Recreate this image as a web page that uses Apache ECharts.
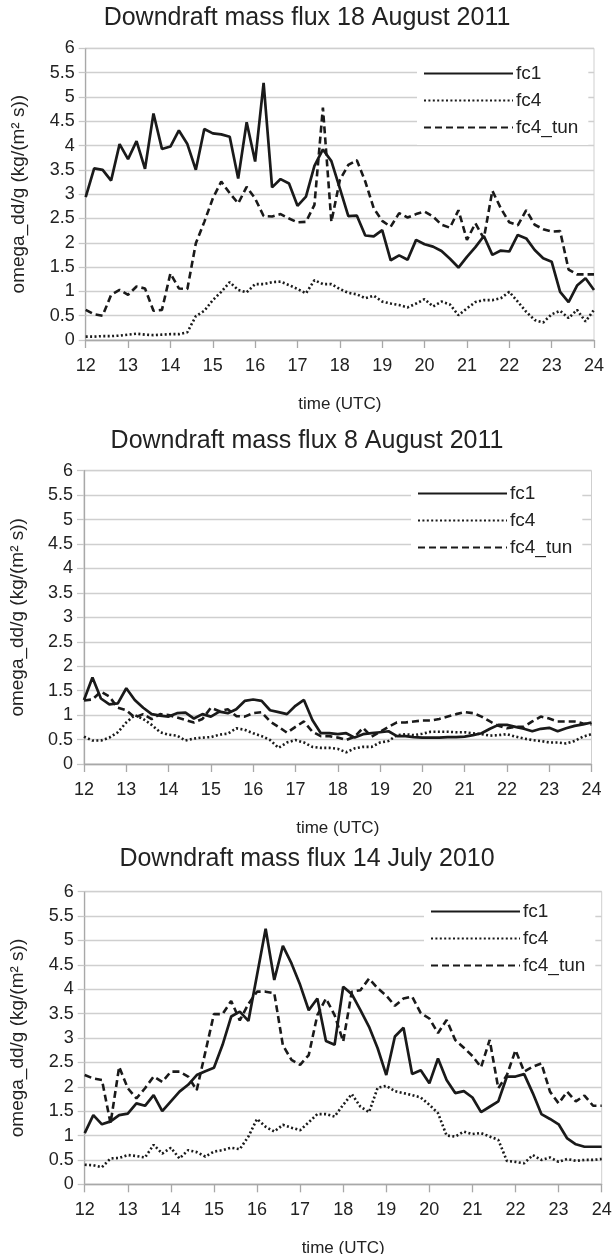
<!DOCTYPE html>
<html><head><meta charset="utf-8">
<script src="https://cdn.jsdelivr.net/npm/echarts@6/dist/echarts.min.js"></script>
<style>html,body{margin:0;padding:0;background:#fff}#c{width:614px;height:1254px}</style>
</head><body><div id="c"></div>
<script>
// ---- data ----
const times = [12,12.2,12.4,12.6,12.8,13,13.2,13.4,13.6,13.8,14,14.2,14.4,14.6,14.8,15,15.2,15.4,15.6,15.8,
  16,16.2,16.4,16.6,16.8,17,17.2,17.4,17.6,17.8,18,18.2,18.4,18.6,18.8,19,19.2,19.4,19.6,19.8,
  20,20.2,20.4,20.6,20.8,21,21.2,21.4,21.6,21.8,22,22.2,22.4,22.6,22.8,23,23.2,23.4,23.6,23.8,24];
const seriesNames = ['fc1','fc4','fc4_tun'];
const panelTitles = ['Downdraft mass flux 18 August 2011','Downdraft mass flux 8 August 2011','Downdraft mass flux 14 July 2010'];
const xName = 'time (UTC)';
const yName = 'omega_dd/g (kg/(m² s))';

const aug18_fc1 = [2.94,3.53,3.50,3.28,4.03,3.72,4.09,3.52,4.66,3.93,3.98,4.31,4.03,3.50,4.34,4.25,4.23,4.18,3.32,4.48,
  3.67,5.29,3.14,3.31,3.22,2.76,2.95,3.58,3.92,3.68,3.12,2.55,2.56,2.15,2.13,2.26,1.64,1.74,1.65,2.06,
  1.97,1.92,1.83,1.67,1.49,1.71,1.91,2.14,1.75,1.84,1.82,2.16,2.09,1.85,1.68,1.61,0.99,0.78,1.12,1.27,1.03];
const aug18_fc4 = [0.07,0.07,0.08,0.08,0.09,0.11,0.13,0.11,0.10,0.11,0.12,0.12,0.16,0.49,0.60,0.82,0.99,1.19,1.03,0.98,
  1.15,1.15,1.19,1.20,1.13,1.05,0.96,1.23,1.15,1.15,1.05,0.97,0.94,0.86,0.91,0.79,0.75,0.72,0.67,0.75,
  0.84,0.69,0.79,0.73,0.51,0.65,0.78,0.82,0.82,0.86,0.99,0.79,0.58,0.41,0.36,0.53,0.60,0.45,0.62,0.38,0.62];
const aug18_tun = [0.62,0.53,0.50,0.93,1.03,0.93,1.10,1.06,0.60,0.62,1.37,1.06,1.05,1.99,2.43,2.91,3.26,3.02,2.81,3.15,
  2.91,2.55,2.54,2.59,2.50,2.42,2.43,2.78,4.78,2.43,3.29,3.60,3.70,3.26,2.71,2.45,2.33,2.61,2.52,2.59,
  2.64,2.54,2.37,2.31,2.67,2.06,2.40,2.09,3.07,2.71,2.42,2.36,2.67,2.37,2.28,2.23,2.24,1.45,1.35,1.35,1.35];

const aug8_fc1 = [1.31,1.77,1.34,1.22,1.24,1.55,1.31,1.15,1.02,0.99,0.97,1.04,1.05,0.93,1.02,0.97,1.07,1.04,1.12,1.29,
  1.32,1.29,1.10,1.06,1.02,1.19,1.31,0.90,0.63,0.63,0.61,0.63,0.54,0.61,0.63,0.65,0.67,0.57,0.57,0.55,
  0.54,0.54,0.54,0.55,0.55,0.56,0.59,0.63,0.72,0.80,0.80,0.76,0.72,0.67,0.72,0.74,0.67,0.73,0.78,0.81,0.85];
const aug8_fc4 = [0.56,0.48,0.48,0.54,0.65,0.85,1.00,0.92,0.80,0.65,0.60,0.58,0.48,0.52,0.54,0.55,0.60,0.62,0.73,0.70,
  0.63,0.57,0.49,0.33,0.44,0.49,0.44,0.35,0.33,0.33,0.31,0.24,0.32,0.35,0.35,0.44,0.47,0.59,0.61,0.59,
  0.62,0.66,0.66,0.66,0.65,0.65,0.63,0.61,0.58,0.59,0.61,0.56,0.52,0.49,0.47,0.44,0.44,0.42,0.47,0.56,0.61];
const aug8_tun = [1.30,1.32,1.48,1.38,1.15,1.10,0.95,1.02,0.92,1.02,1.00,0.95,0.90,0.85,0.92,1.15,1.08,1.12,0.98,0.97,
  1.04,1.06,0.87,0.76,0.64,0.76,0.87,0.66,0.57,0.57,0.54,0.49,0.56,0.74,0.56,0.66,0.76,0.85,0.85,0.87,
  0.89,0.89,0.92,0.97,1.02,1.06,1.04,0.97,0.87,0.78,0.73,0.76,0.76,0.87,0.97,0.93,0.87,0.87,0.87,0.83,0.81];

const jul14_fc1 = [1.05,1.42,1.23,1.29,1.42,1.45,1.66,1.61,1.83,1.50,1.70,1.90,2.04,2.24,2.32,2.39,2.86,3.44,3.54,3.35,
  4.29,5.24,4.19,4.89,4.53,4.09,3.57,3.81,2.94,2.86,4.05,3.90,3.57,3.23,2.79,2.24,3.03,3.21,2.26,2.34,
  2.07,2.58,2.14,1.87,1.91,1.78,1.48,1.59,1.70,2.21,2.21,2.26,1.87,1.44,1.34,1.23,0.94,0.82,0.77,0.77,0.77];
const jul14_fc4 = [0.40,0.39,0.35,0.53,0.54,0.60,0.58,0.55,0.81,0.63,0.75,0.53,0.70,0.66,0.57,0.67,0.70,0.75,0.72,0.98,
  1.34,1.18,1.08,1.22,1.16,1.11,1.27,1.44,1.44,1.39,1.63,1.85,1.59,1.48,1.98,2.02,1.91,1.87,1.83,1.78,
  1.63,1.46,1.00,0.98,1.08,1.03,1.05,0.98,0.91,0.48,0.46,0.43,0.60,0.50,0.55,0.46,0.52,0.48,0.50,0.50,0.52];
const jul14_tun = [2.24,2.17,2.14,1.25,2.41,1.97,1.76,1.97,2.21,2.10,2.31,2.31,2.21,1.93,2.71,3.49,3.49,3.76,3.36,3.70,
  3.95,3.95,3.92,2.85,2.55,2.45,2.65,3.47,3.81,3.47,2.93,3.95,3.98,4.22,4.02,3.87,3.66,3.81,3.85,3.51,
  3.40,3.10,3.37,2.96,2.80,2.63,2.40,2.96,1.97,2.24,2.75,2.31,2.41,2.48,1.90,1.66,1.90,1.70,1.82,1.61,1.61];

const panelData = [
  [aug18_fc1, aug18_fc4, aug18_tun],
  [aug8_fc1, aug8_fc4, aug8_tun],
  [jul14_fc1, jul14_fc4, jul14_tun]
];

// ---- layout / style ----
const FONT = "'Liberation Sans', Arial, sans-serif";
const TXT = '#222';
const LINE = '#1a1a1a';
const grids = [
  {left: 85.7, right: 20, top: 48.3, height: 291.7},
  {left: 84, right: 22.5, top: 470.7, height: 293.3},
  {left: 84.7, right: 12.3, top: 891.7, height: 292.6}
];
const titleTops = [6, 429, 847];
const legendPos = [{left: 417, top: 56}, {left: 411, top: 476}, {left: 424, top: 894}];
const lineStyles = [
  {color: LINE, width: 2.7, type: 'solid'},
  {color: LINE, width: 2.6, type: [2, 2.4], cap: 'butt'},
  {color: LINE, width: 2.6, type: [7, 4], cap: 'butt'}
];

const option = {
  animation: false,
  backgroundColor: '#fff',
  textStyle: {fontFamily: FONT},
  title: panelTitles.map((t, i) => ({
    text: t, left: 'center', top: titleTops[i], padding: 0,
    textStyle: {fontSize: 25, fontWeight: 'normal', color: TXT, fontFamily: FONT}
  })),
  legend: legendPos.map(p => ({
    data: seriesNames, orient: 'vertical', left: p.left, top: p.top,
    padding: [8, 10, 8, 6], itemWidth: 89, itemHeight: 14, itemGap: 8,
    backgroundColor: '#fff', selectedMode: false,
    itemStyle: {color: 'rgba(0,0,0,0)', borderWidth: 0},
    textStyle: {fontSize: 19, color: TXT, fontFamily: FONT, padding: [0, 0, 0, -2]}
  })),
  grid: grids.map(g => Object.assign({show: true, borderColor: '#cfcfcf', borderWidth: 1, backgroundColor: 'transparent', containLabel: false, outerBoundsMode: 'none'}, g)),
  xAxis: grids.map((g, i) => ({
    type: 'value', gridIndex: i, min: 12, max: 24, interval: 1,
    name: xName, nameLocation: 'middle', nameGap: 56,
    nameTextStyle: {fontSize: 17, color: TXT, fontFamily: FONT},
    axisLine: {show: true, onZero: false, lineStyle: {color: '#a8a8a8', width: 1.3}},
    axisTick: {show: true, length: 8, lineStyle: {color: '#a8a8a8', width: 1.3}},
    axisLabel: {fontSize: 18, color: TXT, margin: 17, fontFamily: FONT},
    splitLine: {show: false}
  })),
  yAxis: grids.map((g, i) => ({
    type: 'value', gridIndex: i, min: 0, max: 6, interval: 0.5,
    name: yName, nameLocation: 'middle', nameRotate: 90, nameGap: 57,
    nameTextStyle: {fontSize: 19, color: TXT, fontFamily: FONT},
    axisLine: {show: true, lineStyle: {color: '#a8a8a8', width: 1.3}},
    axisTick: {show: true, length: 7, lineStyle: {color: '#c8c8c8', width: 1.3}},
    axisLabel: {fontSize: 18, color: TXT, margin: 11, fontFamily: FONT},
    splitLine: {show: true, lineStyle: {color: '#cfcfcf', width: 1.3}}
  })),
  series: []
};

panelData.forEach((arrs, p) => {
  arrs.forEach((vals, s) => {
    option.series.push({
      type: 'line', name: seriesNames[s], xAxisIndex: p, yAxisIndex: p,
      data: times.map((t, k) => [t, vals[k]]),
      symbol: 'none', smooth: false, lineStyle: lineStyles[s], itemStyle: {color: LINE},
      emphasis: {disabled: true}, z: 3 - s
    });
  });
});

const chart = echarts.init(document.getElementById('c'), null, {renderer: 'canvas'});
chart.setOption(option);
</script>
</body></html>
